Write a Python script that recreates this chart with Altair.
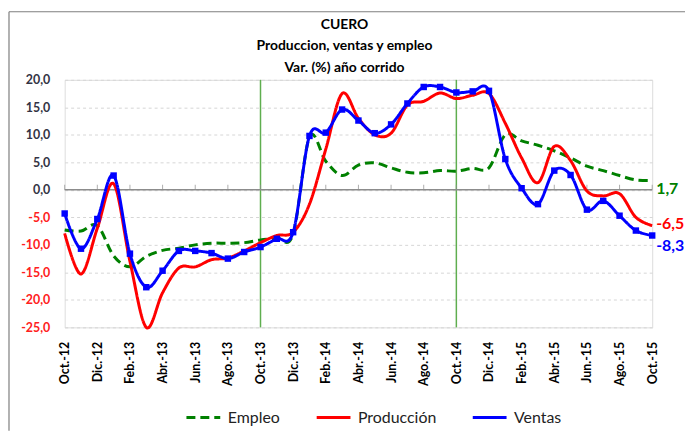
import altair as alt
import pandas as pd

months = ["Oct.-12", "Nov.-12", "Dic.-12", "Ene.-13", "Feb.-13", "Mar.-13", "Abr.-13",
          "May.-13", "Jun.-13", "Jul.-13", "Ago.-13", "Sep.-13", "Oct.-13", "Nov.-13",
          "Dic.-13", "Ene.-14", "Feb.-14", "Mar.-14", "Abr.-14", "May.-14", "Jun.-14",
          "Jul.-14", "Ago.-14", "Sep.-14", "Oct.-14", "Nov.-14", "Dic.-14", "Ene.-15",
          "Feb.-15", "Mar.-15", "Abr.-15", "May.-15", "Jun.-15", "Jul.-15", "Ago.-15",
          "Sep.-15", "Oct.-15"]

empleo = [-7.3, -7.5, -6.5, -12.0, -14.0, -12.1, -11.0, -10.6, -10.0, -9.7, -9.7, -9.6,
          -9.1, -8.8, -8.0, 9.6, 5.2, 2.6, 4.5, 4.9, 4.0, 3.2, 3.1, 3.5, 3.4, 3.9, 4.0,
          10.0, 8.9, 8.1, 7.1, 5.8, 4.3, 3.5, 2.6, 1.8, 1.7]

produccion = [-7.9, -15.3, -7.0, 1.1, -13.0, -25.0, -18.7, -14.2, -14.0, -12.7, -12.4,
              -11.1, -9.6, -8.3, -7.7, -2.6, 7.4, 17.5, 13.0, 10.0, 10.3, 15.4, 16.1,
              17.6, 16.6, 17.2, 17.5, 12.1, 5.8, 1.3, 7.9, 5.3, -0.2, -1.1, -0.7, -5.0, -6.5]

ventas = [-4.3, -10.7, -5.3, 2.6, -11.6, -17.7, -14.7, -11.1, -11.1, -11.5, -12.5, -11.3,
          -10.4, -8.9, -7.7, 9.8, 10.4, 14.6, 12.6, 10.3, 11.9, 15.7, 18.7, 18.7, 17.7,
          17.9, 18.0, 5.6, 0.3, -2.6, 3.5, 2.7, -3.6, -2.0, -4.7, -7.4, -8.3]

series = ["Empleo", "Producción", "Ventas"]
colors = ["#008000", "#ff0000", "#0000ff"]
dashes = [[9, 5], [1, 0], [1, 0]]
label_dy = [9, -2, 11]
tick_months = months[::2]
marker_months = ["Oct.-13", "Oct.-14"]
y_ticks = list(range(-25, 21, 5))
title_lines = ["CUERO", "Produccion, ventas y empleo", "Var. (%) año corrido"]

FONT = "Lato"

rows = []
for name, vals in zip(series, [empleo, produccion, ventas]):
    for m, v in zip(months, vals):
        rows.append({"mes": m, "serie": name, "valor": v,
                     "etiqueta": f"{v:.1f}".replace(".", ",")})
df = pd.DataFrame(rows)

x_enc = alt.X(
    "mes:O", sort=months, title=None,
    scale=alt.Scale(type="point", padding=0),
    axis=alt.Axis(values=tick_months, labelAngle=270, labelFontWeight="bold",
                  labelFontSize=12.5, labelColor="#000000", labelPadding=14,
                  labelOverlap=False, ticks=False, domain=False, grid=False,
                  labelFont=FONT),
)
y_enc = alt.Y(
    "valor:Q", title=None,
    scale=alt.Scale(domain=[-25, 20], nice=False, zero=False),
    axis=alt.Axis(values=y_ticks,
                  labelExpr="replace(replace(format(datum.value, '.1f'), '.', ','), '\u2212', '-')",
                  labelColor={"condition": {"test": "datum.value < 0", "value": "#ff2020"},
                              "value": "#333344"},
                  labelFontWeight="bold", labelFontSize=12.5, labelPadding=15,
                  labelOverlap=False, labelFont=FONT, ticks=False, domain=False,
                  grid=True, gridColor="#d6d6d6", gridDash=[3, 3], gridWidth=1),
)

base = alt.Chart(df)

frame_top = alt.Chart(pd.DataFrame({"v": [0]})).mark_rule(
    color="#7f7f7f", strokeWidth=1.2
).encode(x=alt.value(-56), x2=alt.value(625), y=alt.value(-68.5))
frame_left = alt.Chart(pd.DataFrame({"v": [0]})).mark_rule(
    color="#7f7f7f", strokeWidth=1.2
).encode(x=alt.value(-56), y=alt.value(-68.5), y2=alt.value(353))

vlines = alt.Chart(pd.DataFrame({"mes": marker_months})).mark_rule(
    color="#5fae4f", strokeWidth=1.5
).encode(x=x_enc)

zero_line = alt.Chart(pd.DataFrame({"valor": [0]})).mark_rule(
    color="#8c8c8c", strokeWidth=1.5
).encode(y=y_enc)

zero_ticks = alt.Chart(pd.DataFrame({"mes": tick_months, "valor": [0] * len(tick_months)})).mark_tick(
    orient="vertical", size=5, thickness=1, yOffset=-2.5, color="#8c8c8c"
).encode(x=x_enc, y=y_enc)

legend = alt.Legend(
    title=None, orient="none", legendX=121, legendY=321, direction="horizontal",
    symbolType="stroke", symbolSize=1156, symbolStrokeWidth=3,
    labelFontSize=16, labelFont=FONT, labelColor="#222222", labelOffset=6,
    columnPadding=30,
)

lines = base.mark_line(interpolate="cardinal", strokeWidth=3).encode(
    x=x_enc, y=y_enc,
    color=alt.Color("serie:N", scale=alt.Scale(domain=series, range=colors), legend=legend),
    strokeDash=alt.StrokeDash("serie:N", scale=alt.Scale(domain=series, range=dashes), legend=legend),
)

points = base.transform_filter(alt.datum.serie == "Ventas").mark_point(
    shape="square", filled=True, size=42, color="#0000ff", opacity=1
).encode(x=x_enc, y=y_enc)

end_labels = []
for name, col, dy in zip(series, colors, label_dy):
    end_labels.append(
        base.transform_filter(
            (alt.datum.serie == name) & (alt.datum.mes == months[-1])
        ).mark_text(
            align="left", baseline="middle", dx=4, dy=dy, fontSize=16,
            fontWeight="bold", font=FONT, color=col
        ).encode(x=x_enc, y=y_enc, text="etiqueta:N")
    )

chart = alt.layer(
    frame_top, frame_left, vlines, zero_line, zero_ticks, lines, points, *end_labels
).properties(
    width=591, height=249,
    autosize=alt.AutoSizeParams(type="none"),
    padding={"left": 57, "top": 71, "right": 33, "bottom": 104},
    title=alt.TitleParams(
        text=title_lines, fontSize=14, fontWeight="bold", font=FONT,
        color="#000000", lineHeight=21.5, anchor="middle", frame="group",
        baseline="bottom", dx=-14, offset=-78,
    ),
).configure_view(
    stroke="#868686", strokeWidth=1.5
).configure(
    font=FONT, background="#ffffff"
)

chart.save("out.html", embed_options={"renderer": "svg", "actions": False})
